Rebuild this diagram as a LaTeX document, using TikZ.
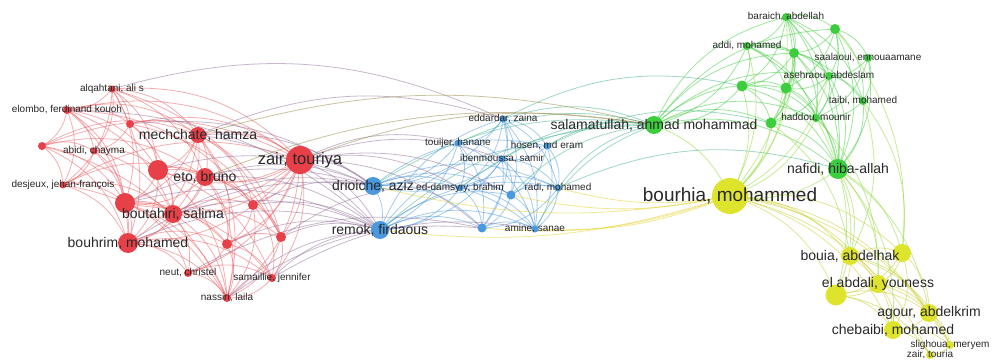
\documentclass[tikz,border=0pt]{standalone}
\usepackage{fontspec}
\setmainfont{Liberation Sans}
\usetikzlibrary{backgrounds}

\definecolor{vred}{RGB}{232,64,72}
\definecolor{vblue}{RGB}{74,152,222}
\definecolor{vgreen}{RGB}{60,206,60}
\definecolor{vyellow}{RGB}{222,228,44}
\definecolor{lbltext}{RGB}{40,40,40}

\begin{document}
\begin{tikzpicture}[x=1pt, y=-1pt,
  vn/.style={circle, inner sep=0pt, minimum size=#1},
  lbs/.style={text=lbltext, inner sep=0pt, font=\fontsize{10}{10}\selectfont},
  lbm/.style={text=lbltext, inner sep=0pt, font=\fontsize{14}{14}\selectfont},
  lbz/.style={text=lbltext, inner sep=0pt, font=\fontsize{16.5}{16.5}\selectfont},
  lbb/.style={text=lbltext, inner sep=0pt, font=\fontsize{19}{19}\selectfont},
  lk/.style={draw=#1, line width=0.8pt, opacity=0.5}]
\useasboundingbox (0,0) rectangle (993,361);

% red cluster
\node[vn=7, fill=vred] (r1) at (112,89) {};
\node[vn=8, fill=vred] (r2) at (67,110) {};
\node[vn=8, fill=vred] (r3) at (130,124) {};
\node[vn=8, fill=vred] (r4) at (42,146) {};
\node[vn=7, fill=vred] (r5) at (94,151) {};
\node[vn=16, fill=vred] (r6) at (198,135) {};
\node[vn=28, fill=vred] (r7) at (300,160) {};
\node[vn=20, fill=vred] (r8) at (158,170) {};
\node[vn=18, fill=vred] (r9) at (205,177) {};
\node[vn=7, fill=vred] (r10) at (63,185) {};
\node[vn=20, fill=vred] (r11) at (125,203) {};
\node[vn=18, fill=vred] (r12) at (173,214) {};
\node[vn=10, fill=vred] (r13) at (253,205) {};
\node[vn=20, fill=vred] (r14) at (128,243) {};
\node[vn=10, fill=vred] (r15) at (227,244) {};
\node[vn=10, fill=vred] (r16) at (281,237) {};
\node[vn=8, fill=vred] (r17) at (188,273) {};
\node[vn=8, fill=vred] (r18) at (272,278) {};
\node[vn=8, fill=vred] (r19) at (227,298) {};

% blue cluster
\node[vn=7, fill=vblue] (b1) at (503,119) {};
\node[vn=7, fill=vblue] (b2) at (458,143) {};
\node[vn=7, fill=vblue] (b3) at (547,146) {};
\node[vn=7, fill=vblue] (b4) at (502,159) {};
\node[vn=18, fill=vblue] (b5) at (373,186) {};
\node[vn=7, fill=vblue] (b6) at (460,188) {};
\node[vn=9, fill=vblue] (b7) at (511,195) {};
\node[vn=7, fill=vblue] (b8) at (558,188) {};
\node[vn=18, fill=vblue] (b9) at (380,230) {};
\node[vn=9, fill=vblue] (b10) at (482,228) {};
\node[vn=7, fill=vblue] (b11) at (535,229) {};

% green cluster
\node[vn=8, fill=vgreen] (g1) at (786,17) {};
\node[vn=10, fill=vgreen] (g2) at (835,29) {};
\node[vn=8, fill=vgreen] (g3) at (747,46) {};
\node[vn=10, fill=vgreen] (g4) at (794,53) {};
\node[vn=8, fill=vgreen] (g5) at (868,58) {};
\node[vn=8, fill=vgreen] (g6) at (829,76) {};
\node[vn=11, fill=vgreen] (g7) at (742,86) {};
\node[vn=11, fill=vgreen] (g8) at (786,88) {};
\node[vn=8, fill=vgreen] (g9) at (863,101) {};
\node[vn=18, fill=vgreen] (g10) at (654,125) {};
\node[vn=11, fill=vgreen] (g11) at (771,123) {};
\node[vn=8, fill=vgreen] (g12) at (816,118) {};
\node[vn=20, fill=vgreen] (g13) at (838,169) {};

% yellow cluster
\node[vn=36, fill=vyellow] (y1) at (730,196) {};
\node[vn=18, fill=vyellow] (y2) at (850,256) {};
\node[vn=18, fill=vyellow] (y3) at (902,253) {};
\node[vn=18, fill=vyellow] (y4) at (878,284) {};
\node[vn=21, fill=vyellow] (y5) at (836,295) {};
\node[vn=18, fill=vyellow] (y6) at (929,313) {};
\node[vn=18, fill=vyellow] (y7) at (893,330) {};
\node[vn=8, fill=vyellow] (y8) at (950,345) {};
\node[vn=8, fill=vyellow] (y9) at (930,355) {};

% labels
\node[lbs] (r1l) at (r1) {alqahtani, ali s};
\node[lbs] (r2l) at (r2) {elombo, ferdinand kouoh};
\node[lbs] (r5l) at (r5) {abidi, chayma};
\node[lbm] (r6l) at (r6) {mechchate, hamza};
\node[lbz] (r7l) at (r7) {zair, touriya};
\node[lbm] (r9l) at (r9) {eto, bruno};
\node[lbs] (r10l) at (r10) {desjeux, jehan-françois};
\node[lbm] (r12l) at (r12) {boutahiri, salima};
\node[lbm] (r14l) at (r14) {bouhrim, mohamed};
\node[lbs] (r17l) at (r17) {neut, christel};
\node[lbs] (r18l) at (r18) {samaillie, jennifer};
\node[lbs] (r19l) at (r19) {nassiri, laila};
\node[lbs] (b1l) at (b1) {eddardar, zaina};
\node[lbs] (b2l) at (b2) {touijer, hanane};
\node[lbs] (b3l) at (b3) {hosen, md eram};
\node[lbs] (b4l) at (b4) {ibenmoussa, samir};
\node[lbm] (b5l) at (b5) {drioiche, aziz};
\node[lbs] (b6l) at (b6) {ed-damsyry, brahim};
\node[lbs] (b8l) at (b8) {radi, mohamed};
\node[lbm] (b9l) at (b9) {remok, firdaous};
\node[lbs] (b11l) at (b11) {amine, sanae};
\node[lbs] (g1l) at (g1) {baraich, abdellah};
\node[lbs] (g3l) at (g3) {addi, mohamed};
\node[lbs] (g5l) at (g5) {saalaoui, ennouaamane};
\node[lbs] (g6l) at (g6) {asehraou, abdeslam};
\node[lbs] (g9l) at (g9) {taibi, mohamed};
\node[lbm] (g10l) at (g10) {salamatullah, ahmad mohammad};
\node[lbs] (g12l) at (g12) {haddou, mounir};
\node[lbm] (g13l) at (g13) {nafidi, hiba-allah};
\node[lbb] (y1l) at (y1) {bourhia, mohammed};
\node[lbm] (y2l) at (y2) {bouia, abdelhak};
\node[lbm] (y4l) at (y4) {el abdali, youness};
\node[lbm] (y6l) at (y6) {agour, abdelkrim};
\node[lbm] (y7l) at (y7) {chebaibi, mohamed};
\node[lbs] (y8l) at (y8) {slighoua, meryem};
\node[lbs] (y9l) at (y9) {zair, touria};

\begin{scope}[on background layer]
\fill[white] (0,0) rectangle (993,361);
% links inside clusters
\foreach \a/\b in {r1/r2,r1/r3,r1/r5,r1/r6,r1/r8,r1/r10,r1/r11,r1/r7,r2/r3,r2/r4,r2/r5,r2/r6,
  r2/r8,r2/r11,r2/r10,r3/r5,r3/r6,r3/r8,r3/r7,r4/r5,r4/r10,r4/r11,r4/r14,r4/r6,r5/r10,r5/r8,
  r5/r11,r5/r12,r6/r7,r6/r8,r6/r9,r6/r12,r6/r13,r6/r15,r6/r11,r6/r16,r7/r8,r7/r9,r7/r11,r7/r12,
  r7/r13,r7/r14,r7/r15,r7/r16,r7/r17,r7/r18,r7/r19,r8/r9,r8/r11,r8/r12,r8/r14,r8/r13,r9/r11,
  r9/r12,r9/r14,r9/r13,r9/r15,r9/r16,r9/r19,r10/r11,r10/r14,r10/r12,r11/r12,r11/r14,r11/r17,
  r11/r19,r11/r15,r12/r14,r12/r15,r12/r17,r12/r19,r12/r13,r12/r16,r13/r15,r13/r16,r13/r18,
  r13/r19,r14/r17,r14/r19,r14/r15,r14/r18,r15/r16,r15/r17,r15/r19,r15/r18,r16/r18,r16/r19,
  r17/r19,r17/r18,r18/r19,r2/r7,r4/r7,r10/r7,r4/r9,r10/r9,r1/r9,r2/r12,r4/r19,r10/r19,
  r2/r14,r1/r14,r3/r12,r5/r14,r6/r14,r6/r19,r1/r16,r3/r16,r2/r13,r8/r19,r8/r18,r11/r18}
  \draw[lk=vred!85!white] (\a.center) to[bend left=25] (\b.center);
\foreach \a/\b in {b1/b2,b1/b3,b1/b4,b1/b6,b1/b7,b1/b10,b1/b11,b1/b5,b1/b8,b2/b4,b2/b5,b2/b6,
  b2/b10,b2/b11,b2/b9,b3/b4,b3/b8,b3/b7,b3/b11,b4/b6,b4/b7,b4/b8,b4/b10,b4/b11,b4/b5,b4/b9,
  b5/b6,b5/b9,b5/b10,b5/b7,b5/b11,b6/b7,b6/b10,b6/b11,b6/b8,b6/b9,b7/b8,b7/b10,b7/b11,b8/b10,
  b8/b11,b9/b10,b9/b11,b9/b7,b10/b11,b5/b8,b9/b8,b5/b3,b9/b3,b9/b1}
  \draw[lk=vblue] (\a.center) to[bend left=25] (\b.center);
\foreach \a/\b in {g1/g2,g1/g3,g1/g4,g1/g6,g1/g7,g1/g8,g1/g11,g1/g12,g1/g13,g2/g4,g2/g5,g2/g6,
  g2/g8,g2/g9,g2/g12,g2/g13,g3/g4,g3/g7,g3/g8,g3/g10,g3/g6,g3/g12,g4/g6,g4/g7,g4/g8,g4/g11,
  g4/g12,g5/g6,g5/g9,g5/g12,g5/g13,g6/g8,g6/g9,g6/g11,g6/g12,g7/g8,g7/g10,g7/g11,g7/g12,
  g8/g11,g8/g12,g9/g12,g9/g13,g10/g11,g10/g1,g10/g12,g11/g12,g12/g13,g11/g13,g6/g13,g8/g13,
  g10/g4,g10/g8,g10/g6,g10/g2,g10/g13,g3/g13,g7/g13,g4/g13,g1/g9,g3/g9}
  \draw[lk=vgreen] (\a.center) to[bend left=25] (\b.center);
\foreach \a/\b in {y1/y2,y1/y3,y1/y4,y1/y5,y1/y6,y1/y7,y2/y3,y2/y4,y2/y5,y2/y6,y2/y7,y3/y4,
  y3/y5,y3/y6,y4/y5,y4/y6,y4/y7,y5/y7,y5/y6,y6/y7,y6/y8,y7/y8,y7/y9,y8/y9,y3/y7,y4/y8,
  y1/y8,y1/y9,y2/y8,y5/y9}
  \draw[lk=vyellow!90!black] (\a.center) to[bend left=25] (\b.center);
% links between clusters
\foreach \a/\b in {r7/b5,r7/b9,r6/b5,r9/b9,r12/b5,r14/b9,r16/b9,r13/b5,r18/b9,r19/b9,r7/b2,
  r7/b6,r6/b1,r8/b5,r11/b9,r1/b1,r17/b10,r7/b4,r7/b7,r7/b10,r9/b5,r12/b9,r15/b9,r13/b9,
  r6/b9,r14/b5,r11/b5,r3/b5,r2/b9,r19/b10,r18/b11,r16/b6}
  \draw[lk=vblue!55!vred] (\a.center) to[bend left=20] (\b.center);
\foreach \a/\b in {b1/g10,b3/g10,b4/g10,b8/g10,b7/g10,b5/g10,b11/g10,b2/g10,b8/g13,b9/g10,
  b6/g10,b1/g7,b3/g11}
  \draw[lk=vblue!50!vgreen] (\a.center) to[bend left=20] (\b.center);
\foreach \a/\b in {b11/y1,b8/y1,b9/y1,b10/y1,b7/y1,b5/y1}
  \draw[lk=vyellow!80!orange] (\a.center) to[bend right=12] (\b.center);
\foreach \a/\b in {r7/g10,r9/g10,r6/g10}
  \draw[lk=vred!50!vgreen] (\a.center) to[bend left=15] (\b.center);
\foreach \a/\b in {g10/y1,g13/y1,g7/y1,g11/y1,g8/y1,g3/y1,g12/y1,g1/y1,g13/y2,g13/y3,g13/y4,
  g13/y5,g2/y3,g9/y3,g12/y4,g4/y1,g6/y1,g13/y6,g13/y7,g9/y2,g12/y5,g11/y2}
  \draw[lk=vgreen!50!vyellow] (\a.center) to[bend left=22] (\b.center);
\end{scope}
\end{tikzpicture}
\end{document}
